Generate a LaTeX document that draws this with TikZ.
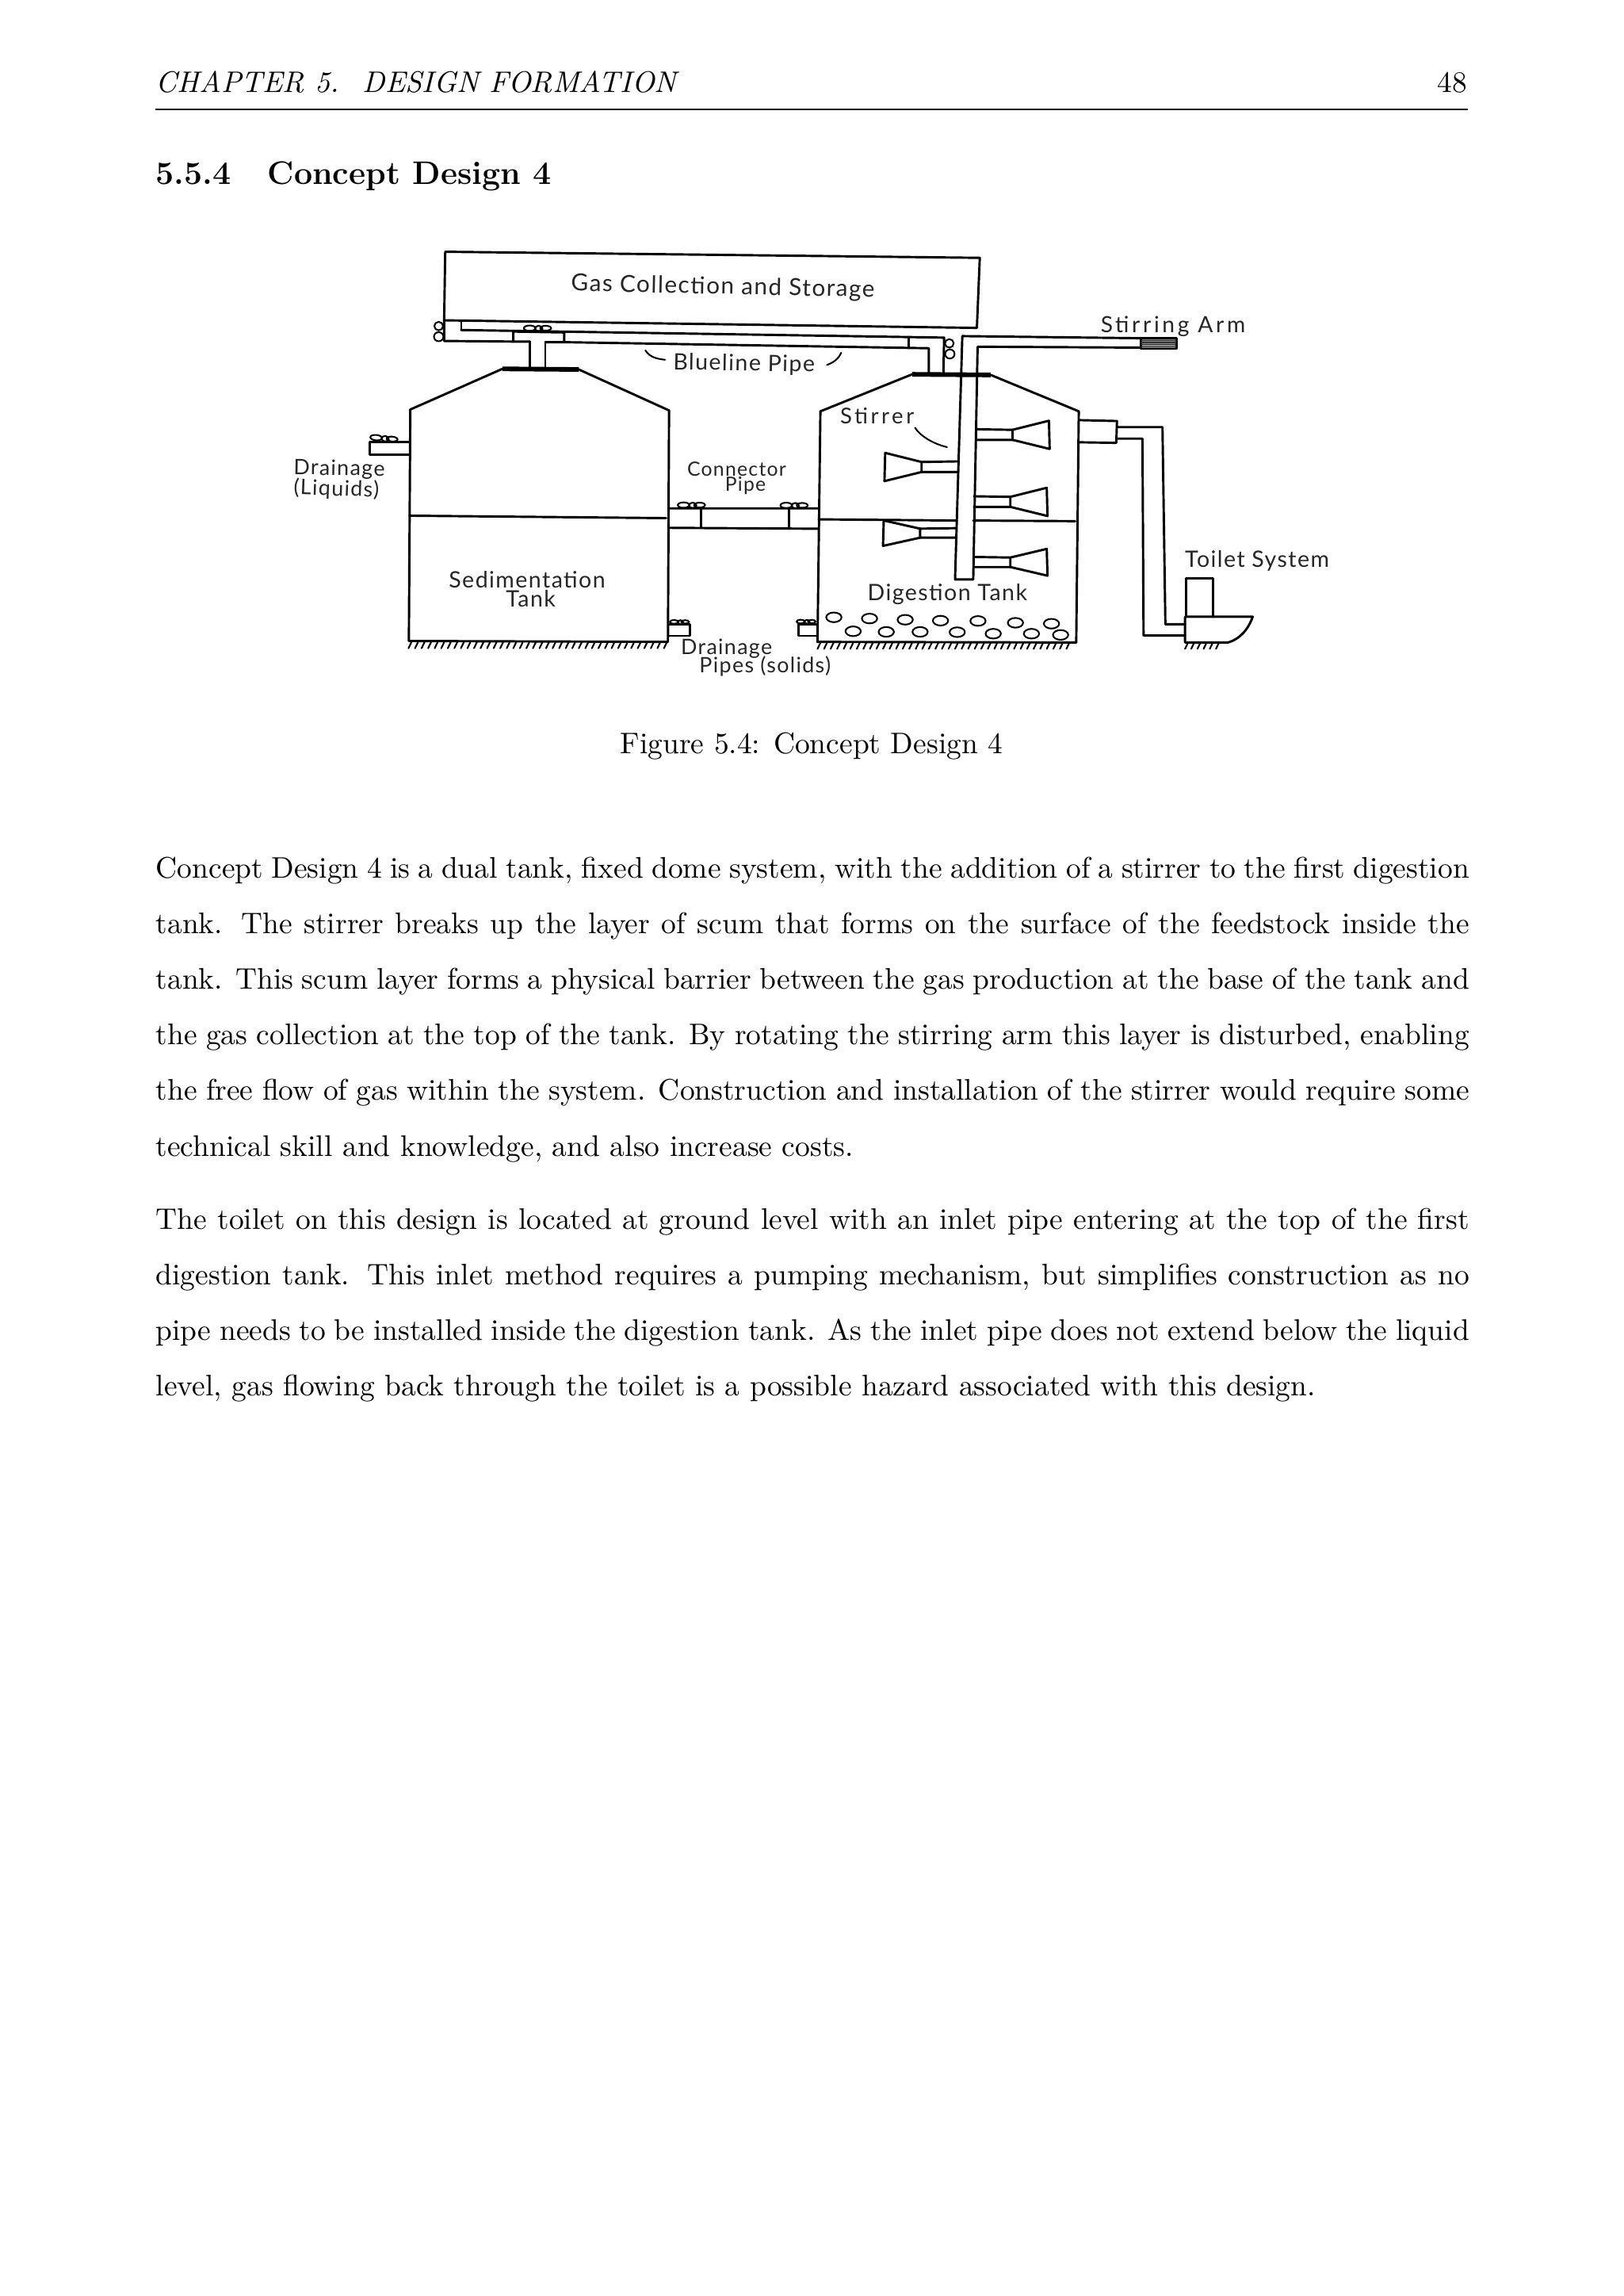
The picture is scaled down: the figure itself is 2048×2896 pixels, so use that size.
\documentclass[tikz,border=0pt]{standalone}
\usepackage{fontspec}
\newfontfamily\handfont[LetterSpace=5]{Lato}
\newfontfamily\handwide[LetterSpace=13]{Lato}
\tikzset{
  sketch/.style={line width=.85pt,line join=round,line cap=round},
  sketch thin/.style={line width=.6pt,line cap=round},
  sketch heavy/.style={line width=1.7pt},
  hand label/.style={font=\handfont\fontsize{#1}{10}\selectfont,inner sep=0pt,align=center,text=black!85},
  hand label/.default=8.3,
  hand wide/.style={font=\handwide\fontsize{#1}{10}\selectfont,inner sep=0pt,align=center,text=black!85},
  page text/.style={font=\fontsize{10.9}{20.4}\selectfont,inner sep=0pt,anchor=north west,text width=481.7pt,align=justify},
  zoom left/.style={shift={(340,290)},x=.13345pt,y=-.11122pt},
  zoom right/.style={shift={(980,290)},x=.13345pt,y=-.11122pt},
  valve/.pic={
    \draw[sketch thin] (-22,0) ellipse (16 and 9);
    \draw[sketch thin] (3,1) ellipse (10 and 9);
    \draw[sketch thin] (22,0) ellipse (15 and 8);
  },
  valve upright/.pic={
    \draw[sketch thin] (0,-18) ellipse (12 and 14);
    \draw[sketch thin] (0,17) ellipse (13 and 15);
  },
  paddle/.pic={
    \draw[sketch] (0,0) -- (-100,2) -- (-100,35) -- (0,35);
    \draw[sketch] (-100,2) -- (-200,-28) -- (-202,65) -- (-100,35);
  }
}
\begin{document}
\begin{tikzpicture}[x=.29066pt,y=-.29066pt]
  \useasboundingbox (0,0) rectangle (2048,2896);
  % page head
  \node[font=\fontsize{10.9}{14}\selectfont\itshape,inner sep=0pt,anchor=base west] (chapter) at (196,116) {CHAPTER 5.\hspace{8.6pt}DESIGN FORMATION};
  \node[font=\fontsize{10.9}{14}\selectfont,inner sep=0pt,anchor=base east] (pageno) at (1852,116) {48};
  \draw[line width=.4pt] (196,138) -- (1852,138);
  \node[font=\fontsize{11.95}{17}\selectfont\bfseries,inner sep=0pt,anchor=base west] (secnum) at (196,232) {5.5.4};
  \node[font=\fontsize{11.95}{17}\selectfont\bfseries,inner sep=0pt,anchor=base west] (sectitle) at (337,232) {Concept Design 4};
  \node[font=\fontsize{10.9}{14}\selectfont,inner sep=0pt,anchor=base] (caption) at (1024,950) {Figure 5.4: Concept Design 4};
  \node[page text] (para one) at (196,1080) {Concept Design 4 is a dual tank, fixed dome system, with the addition of a stirrer to the first digestion tank. The stirrer breaks up the layer of scum that forms on the surface of the feedstock inside the tank. This scum layer forms a physical barrier between the gas production at the base of the tank and\linebreak the gas collection at the top of the tank. By rotating the stirring arm this layer is disturbed, enabling\linebreak the free flow of gas within the system. Construction and installation of the stirrer would require some\linebreak technical skill and knowledge, and also increase costs.};
  \node[page text] (para two) at (196,1523) {The toilet on this design is located at ground level with an inlet pipe entering at the top of the first digestion tank. This inlet method requires a pumping mechanism, but simplifies construction as no pipe needs to be installed inside the digestion tank. As the inlet pipe does not extend below the liquid level, gas flowing back through the toilet is a possible hazard associated with this design.};
  % left half of the sketch
  \begin{scope}[zoom left]
    \draw[sketch] (480,298) -- (480,366) -- (670,368);
    \draw[sketch] (527,300) -- (527,330);
    \draw[sketch] (715,368) -- (670,368) -- (670,335) -- (810,338) -- (810,370) -- (758,370);
    \draw[sketch] (715,368) -- (715,455) (758,370) -- (758,455);
    \draw[sketch heavy] (640,458) -- (850,460);
    \draw[sketch] (640,458) -- (387,592) -- (383,1355) -- (1095,1358) -- (1098,595) -- (850,460);
    \draw[sketch] (385,942) -- (1090,950);
    \foreach \x in {390,408,...,1095} \draw[sketch thin] (\x,1359) -- ++(-8,20);
    % drains and connector
    \draw[sketch] (385,700) -- (275,700) -- (275,742) -- (385,742);
    \pic[rotate=-5] at (315,687) {valve};
    \draw[sketch] (1098,918) -- (1507,918) (1098,982) -- (1507,985);
    \draw[sketch] (1185,918) -- (1185,982) (1428,918) -- (1428,985);
    \pic at (1160,907) {valve};
    \pic at (1442,908) {valve};
    \draw[sketch] (1098,1300) -- (1155,1300) -- (1155,1338) -- (1098,1338);
    \pic[scale=.7] at (1127,1292) {valve};
    \draw[sketch] (1505,1300) -- (1453,1300) -- (1453,1338) -- (1505,1338);
    \pic[scale=.7] at (1475,1291) {valve};
    \pic at (465,335) {valve upright};
    \pic at (737,324) {valve};
    \draw[sketch thin] (1033,397) .. controls (1045,420) and (1065,425) .. (1087,428);
    % labels
    \node[hand label,rotate=-1] (blueline label) at (1304,443) {Blueline Pipe};
    \node[hand label=7.8,anchor=west,rotate=-1] (drain liquid) at (65,787) {Drainage};
    \node[hand label=7.8,anchor=west,rotate=-2] (liquid label) at (65,850) {(Liquids)};
    \node[hand label=7.2] (connector label) at (1284,787) {Connector};
    \node[hand label=7.2] (connector pipe) at (1308,843) {Pipe};
    \node[hand label] (sediment label) at (708,1152) {Sedimentation};
    \node[hand label] (sediment tank) at (718,1215) {Tank};
    \node[hand label=7.8] (drain solid) at (1256,1380) {Drainage};
    \node[hand label=7.8] (solid label) at (1362,1438) {Pipes (solids)};
  \end{scope}
  % right half of the sketch
  \begin{scope}[zoom right]
    \draw[sketch] (-914,298) -- (-911,72) -- (558,92) -- (550,323) -- cycle;
    \draw[sketch] (-867,330) -- (460,355) -- (458,472);
    \draw[sketch] (-584,370) -- (418,390) -- (418,472);
    \draw[sketch] (362,353) -- (362,387);
    \pic[rotate=3] at (475,392) {valve upright};
    % stirring arm
    \draw[sketch] (1000,357) -- (510,350) -- (490,1152) -- (540,1152) -- (552,385) -- (1000,388);
    \draw[sketch,fill=black!45] (1000,357) rectangle (1098,392);
    \foreach \y in {364,371,...,390} \draw[line width=.4pt,black!80] (1000,\y) -- (1098,\y);
    \draw[sketch heavy] (372,476) -- (588,478);
    \draw[sketch] (372,476) -- (120,598) -- (112,1358) -- (823,1360) -- (830,598) -- (588,478);
    \draw[sketch] (115,954) -- (495,958) (540,958) -- (820,960);
    \foreach \x in {120,138,...,820} \draw[sketch thin] (\x,1361) -- ++(-8,20);
    % paddles
    \pic[xscale=-1] at (548,657) {paddle};
    \pic[xscale=1] at (498,763) {paddle};
    \pic[xscale=-1] at (542,878) {paddle};
    \pic[yscale=.9] at (494,983) {paddle};
    \pic[xscale=-1,yscale=.95] at (542,1078) {paddle};
    \draw[sketch thin] (380,652) .. controls (395,680) and (430,705) .. (468,716);
    \draw[sketch thin] (138,445) .. controls (155,438) and (170,425) .. (177,405);
    % inlet and toilet
    \draw[sketch] (832,627) -- (935,630) -- (933,702) -- (830,700);
    \draw[sketch] (935,650) -- (1060,650) -- (1068,1300) -- (1122,1300);
    \draw[sketch] (935,688) -- (1005,688) -- (1008,1337) -- (1122,1337);
    \draw[sketch] (1125,1275) -- (1125,1148) -- (1198,1148) -- (1198,1275);
    \draw[sketch] (1122,1360) -- (1122,1275) -- (1308,1275) .. controls (1295,1320) and (1270,1350) .. (1240,1360) -- cycle;
    \foreach \x in {1130,1147,...,1230} \draw[sketch thin] (\x,1361) -- ++(-8,20);
    % sludge
    \foreach \x/\y in {157/1277,255/1281,353/1285,450/1288,553/1289,656/1295,755/1298,210/1323,301/1325,394/1325,496/1326,595/1331,700/1331,780/1335}
      \draw[sketch thin] (\x,\y) ellipse (21 and 16);
    % labels
    \node[hand label=8.65,rotate=-1.2] (gas text) at (-148,190) {Gas Collection and Storage};
    \node[hand wide=8.2] (arm label) at (1089,318) {Stirring Arm};
    \node[hand wide=8] (stirrer label) at (276,612) {Stirrer};
    \node[hand label] (digestion label) at (469,1200) {Digestion Tank};
    \node[hand label] (toilet label) at (1320,1092) {Toilet System};
  \end{scope}
\end{tikzpicture}
\end{document}
